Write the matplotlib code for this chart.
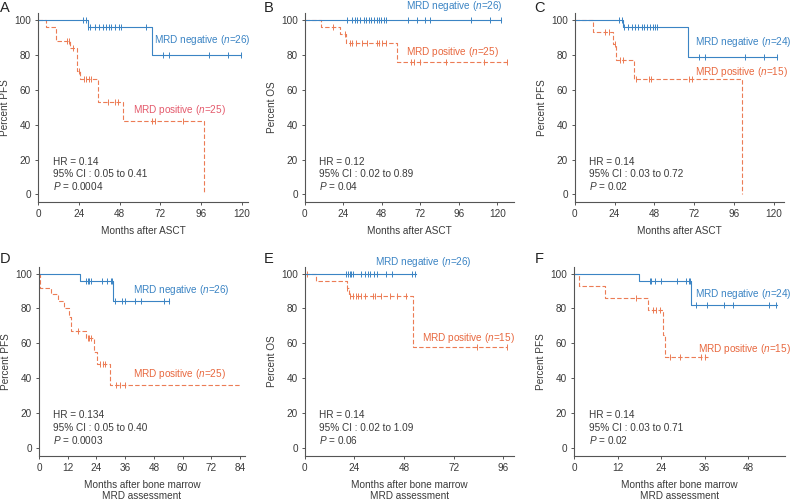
import matplotlib
matplotlib.use("Agg")
import matplotlib.pyplot as plt
import numpy as np

plt.rcParams['font.family'] = ['Liberation Sans', 'DejaVu Sans']
plt.rcParams['mathtext.fontset'] = 'custom'
plt.rcParams['mathtext.rm'] = 'Liberation Sans'
plt.rcParams['mathtext.it'] = 'Liberation Sans:italic'

BLUE = '#3b84c4'
ORANGE = '#ec7c55'
ORANGE_TXT = '#e8683f'
PINK_TXT = '#e45a6c'
GRAY = '#3a3a3a'

# ---------------- data ----------------
# Panel A (PFS, months after ASCT)
A_neg_evt_t = [29.2, 66.8]
A_neg_evt_s = [96, 80]
A_neg_cens = [26.5, 28.5, 29.6, 30.8, 33.7, 36.0, 38.0, 40.0, 41.6, 43.0, 45.5, 47.5, 49.0, 63.3,
              73.5, 76.8, 100.5, 111.7, 119.5]
A_neg_end = 119.5
A_pos_evt_t = [4.5, 10.3, 18.6, 23.2, 24.6, 35.1, 49.7, 97.7]
A_pos_evt_s = [96, 88, 84, 71, 66, 53, 42, 0]
A_pos_cens = [17.0, 18.0, 20.4, 23.9, 27.0, 28.4, 29.8, 31.0, 41.0, 45.5, 47.0, 67.0, 69.0, 85.0]
A_pos_end = 97.7

# Panel B (OS, months after ASCT)
B_neg_evt_t = []
B_neg_evt_s = []
B_neg_cens = [26.1, 29.7, 31.1, 32.4, 34.2, 36.9, 38.5, 40.0, 41.5, 43.2, 44.8, 46.3, 47.7, 49.4,
              50.4, 64.3, 70.2, 74.9, 78.0, 103.4, 115.4, 122.4]
B_neg_end = 122.4
B_pos_evt_t = [10.2, 22.1, 25.8, 57.5]
B_pos_evt_s = [96, 92, 87, 76]
B_pos_cens = [17.5, 24.9, 28.2, 29.3, 32.0, 35.5, 38.6, 44.9, 46.5, 48.0, 50.7, 66.4, 67.8, 72.0,
              88.2, 112.0, 125.8]
B_pos_end = 125.8

# Panel C (PFS, months after ASCT)
C_neg_evt_t = [29.3, 68.1]
C_neg_evt_s = [96, 79]
C_neg_cens = [26.7, 28.3, 29.6, 32.3, 34.4, 36.4, 38.4, 40.4, 41.8, 43.4, 45.4, 47.0, 48.4, 49.8,
              75.2, 78.5, 102.8, 114.2, 122.0]
C_neg_end = 122.0
C_pos_evt_t = [11.2, 23.3, 25.1, 35.6, 100.6]
C_pos_evt_s = [93, 86, 77, 66, 0]
C_pos_cens = [18.3, 20.9, 24.3, 27.3, 29.3, 37.0, 44.8, 46.0, 68.7, 71.0]
C_pos_end = 100.6

# Panel D (PFS, months after BM MRD assessment)
D_neg_evt_t = [17.0, 31.0]
D_neg_evt_s = [96, 84]
D_neg_cens = [19.6, 20.3, 21.0, 21.8, 26.4, 28.5, 30.0, 30.5, 31.9, 34.6, 36.0, 40.0, 42.8, 52.3, 54.4]
D_neg_end = 54.5
D_pos_evt_t = [0.4, 5.0, 7.8, 10.6, 12.6, 13.4, 19.6, 23.1, 24.1, 29.7]
D_pos_evt_s = [92, 88, 84, 80, 75, 67, 63, 55, 48, 36]
D_pos_cens = [16.2, 20.3, 21.0, 21.7, 25.5, 26.9, 27.6, 32.0, 34.0, 35.8]
D_pos_end = 84.2

# Panel E (OS, months after BM MRD assessment)
E_neg_evt_t = []
E_neg_evt_s = []
E_neg_cens = [19.8, 20.9, 21.9, 22.5, 23.5, 27.1, 29.3, 30.5, 31.8, 33.4, 34.8, 39.3, 42.0, 52.1, 53.5]
E_neg_end = 53.6
E_pos_evt_t = [5.5, 20.3, 21.4, 52.5]
E_pos_evt_s = [96, 92, 87, 58]
E_pos_cens = [1.2, 20.6, 22.1, 23.5, 24.7, 25.9, 27.3, 29.0, 33.0, 34.0, 37.0, 41.2, 44.6, 48.8,
              83.1, 97.6]
E_pos_end = 97.6

# Panel F (PFS, months after BM MRD assessment)
F_neg_evt_t = [17.9, 32.3]
F_neg_evt_s = [96, 82]
F_neg_cens = [20.9, 21.3, 22.3, 24.1, 28.5, 31.0, 31.6, 32.1, 33.7, 36.8, 41.4, 43.9, 53.7, 55.8]
F_neg_end = 56.0
F_pos_evt_t = [1.3, 8.6, 20.4, 24.6, 25.2]
F_pos_evt_s = [93, 86, 79, 65, 52]
F_pos_cens = [17.2, 21.8, 22.7, 23.6, 26.4, 29.2, 34.9, 36.1]
F_pos_end = 37.0

panel_letters = ['A', 'B', 'C', 'D', 'E', 'F']
ylabels = ['Percent PFS', 'Percent OS', 'Percent PFS', 'Percent PFS', 'Percent OS', 'Percent PFS']
xlabels = ['Months after ASCT'] * 3 + ['Months after bone marrow\nMRD assessment'] * 3
xticks = [[0, 24, 48, 72, 96, 120]] * 3 + [[0, 12, 24, 36, 48, 60, 72, 84], [0, 24, 48, 72, 96],
                                           [0, 12, 24, 36, 48]]
yticks = [0, 20, 40, 60, 80, 100]
neg_labels = ['26', '26', '24', '26', '26', '24']
pos_labels = ['25', '25', '15', '25', '15', '15']
hr_text = ['HR = 0.14', 'HR = 0.12', 'HR = 0.14', 'HR = 0.134', 'HR = 0.14', 'HR = 0.14']
ci_text = ['95% CI : 0.05 to 0.41', '95% CI : 0.02 to 0.89', '95% CI : 0.03 to 0.72',
           '95% CI : 0.05 to 0.40', '95% CI : 0.02 to 1.09', '95% CI : 0.03 to 0.71']
p_text = ['0.0004', '0.04', '0.02', '0.0003', '0.06', '0.02']

data = {
    'A': (A_neg_evt_t, A_neg_evt_s, A_neg_cens, A_neg_end, A_pos_evt_t, A_pos_evt_s, A_pos_cens, A_pos_end),
    'B': (B_neg_evt_t, B_neg_evt_s, B_neg_cens, B_neg_end, B_pos_evt_t, B_pos_evt_s, B_pos_cens, B_pos_end),
    'C': (C_neg_evt_t, C_neg_evt_s, C_neg_cens, C_neg_end, C_pos_evt_t, C_pos_evt_s, C_pos_cens, C_pos_end),
    'D': (D_neg_evt_t, D_neg_evt_s, D_neg_cens, D_neg_end, D_pos_evt_t, D_pos_evt_s, D_pos_cens, D_pos_end),
    'E': (E_neg_evt_t, E_neg_evt_s, E_neg_cens, E_neg_end, E_pos_evt_t, E_pos_evt_s, E_pos_cens, E_pos_end),
    'F': (F_neg_evt_t, F_neg_evt_s, F_neg_cens, F_neg_end, F_pos_evt_t, F_pos_evt_s, F_pos_cens, F_pos_end),
}

# ---------------- layout ----------------
W, H = 792, 501
fig = plt.figure(figsize=(W / 100, H / 100), dpi=100)

xgeom = {'A': (38, 248, 123.5), 'B': (304.7, 514, 130.4), 'C': (574.7, 784, 126.2),
         'D': (39, 245, 86.1), 'E': (304.7, 514, 101.2), 'F': (574, 784.7, 58.1)}
rows = {'A': (13.3, 201.7), 'B': (13.3, 201.7), 'C': (13.3, 201.7),
        'D': (266.7, 455.7), 'E': (266.7, 455.7), 'F': (266.7, 455.7)}
letter_pos = {'A': (0, 11.7), 'B': (264, 11.7), 'C': (534.5, 11.7),
              'D': (0, 263.3), 'E': (264, 263.3), 'F': (534.5, 263.3)}
neg_txt = {'A': (68.2, 88.5), 'B': (62.9, 108), 'C': (72.7, 87.6),
           'D': (39.4, 90.8), 'E': (34.0, 106.5), 'F': (33.5, 88.5)}
pos_txt = {'A': (56.0, 48.3), 'B': (62.9, 81.8), 'C': (72.7, 70.3),
           'D': (39.4, 42.8), 'E': (56.5, 63.1), 'F': (34.2, 57.0)}

FS = 7.2


def km_steps(evt_t, evt_s, end):
    t = [0.0] + list(evt_t) + [end]
    s = [100.0] + list(evt_s) + [evt_s[-1] if len(evt_s) else 100.0]
    return np.array(t), np.array(s)


def level_at(evt_t, evt_s, x):
    lv = 100.0
    for tt, ss in zip(evt_t, evt_s):
        if x >= tt:
            lv = ss
    return lv


for i, L in enumerate(panel_letters):
    l, r, xmax = xgeom[L]
    top, bot = rows[L]
    ax = fig.add_axes([l / W, 1 - bot / H, (r - l) / W, (bot - top) / H])
    nt, ns, nc, nend, pt, ps, pc, pend = data[L]

    t, s = km_steps(pt, ps, pend)
    ax.step(t, s, where='post', color=ORANGE, lw=0.8, linestyle=(0, (4, 2)), clip_on=False)
    cy = [level_at(pt, ps, c) for c in pc]
    ax.plot(pc, cy, linestyle='none', marker='|', ms=4.5, mew=0.7, color=ORANGE, clip_on=False)

    t, s = km_steps(nt, ns, nend)
    ax.step(t, s, where='post', color=BLUE, lw=0.8, clip_on=False)
    cy = [level_at(nt, ns, c) for c in nc]
    ax.plot(nc, cy, linestyle='none', marker='|', ms=4.5, mew=0.7, color=BLUE, clip_on=False)

    ax.set_xlim(0, xmax)
    ax.set_ylim(-4.2, 103.9)
    ax.set_xticks(xticks[i])
    ax.set_yticks(yticks)
    for sp in ['top', 'right']:
        ax.spines[sp].set_visible(False)
    for sp in ['left', 'bottom']:
        ax.spines[sp].set_color('#555555')
        ax.spines[sp].set_linewidth(0.8)
    ax.tick_params(axis='both', direction='out', length=2.5, width=0.7, colors='#555555',
                   labelsize=FS, labelcolor=GRAY, pad=2.5)
    ax.set_ylabel(ylabels[i], fontsize=FS, color=GRAY, labelpad=3)
    ax.set_xlabel(xlabels[i], fontsize=FS, color=GRAY, labelpad=5 if i < 3 else 5.5,
                  linespacing=1.1)

    ax.text(*neg_txt[L], f'MRD negative ($n$={neg_labels[i]})', color=BLUE, fontsize=FS,
            va='center', ha='left', clip_on=False)
    ax.text(*pos_txt[L], f'MRD positive ($n$={pos_labels[i]})',
            color=PINK_TXT if L == 'A' else ORANGE_TXT, fontsize=FS, va='center', ha='left',
            clip_on=False)

    ax.text(0.07, 0.213, hr_text[i], transform=ax.transAxes, fontsize=FS, color=GRAY, va='center')
    ax.text(0.07, 0.148, ci_text[i], transform=ax.transAxes, fontsize=FS, color=GRAY, va='center')
    ax.text(0.07, 0.081, f'$P$ = {p_text[i]}', transform=ax.transAxes, fontsize=FS, color=GRAY,
            va='center')

    lx, ly = letter_pos[L]
    fig.text(lx / W, 1 - ly / H, L, fontsize=10.5, color='#222222', ha='left', va='baseline')

fig.savefig('out.png', dpi=100)
